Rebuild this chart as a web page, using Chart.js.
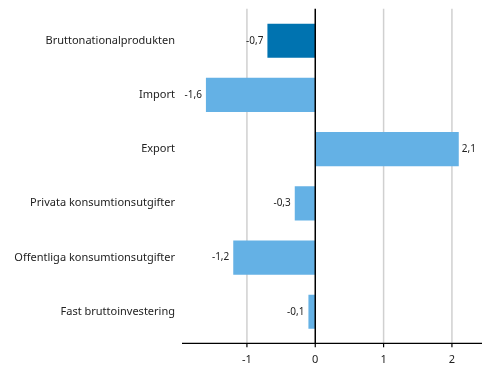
<!DOCTYPE html>
<html>
<head>
<meta charset="utf-8">
<script src="https://cdn.jsdelivr.net/npm/chart.js@4"></script>
<style>
  html, body { margin: 0; padding: 0; background: #fff; }
  #wrap { width: 491px; height: 378px; }
</style>
</head>
<body>
<div id="wrap"><canvas id="c" width="491" height="378"></canvas></div>
<script>
const categories = ["Bruttonationalprodukten", "Import", "Export", "Privata konsumtionsutgifter", "Offentliga konsumtionsutgifter", "Fast bruttoinvestering"];
const values = [-0.7, -1.6, 2.1, -0.3, -1.2, -0.1];
const valueLabels = ["-0,7", "-1,6", "2,1", "-0,3", "-1,2", "-0,1"];
const xTicks = [-1, 0, 1, 2];
const xTickLabels = ["-1", "0", "1", "2"];
const barColors = ["#0073b0", "#64b1e5", "#64b1e5", "#64b1e5", "#64b1e5", "#64b1e5"];

const FONT = "'Noto Sans', sans-serif";
const CAT_SIZE = 11;
const VAL_SIZE = 10;
const GRID_TOP = 8.7, AXIS_Y = 343.3;

const gridPlugin = {
  id: 'grid',
  beforeDatasetsDraw(chart) {
    const ctx = chart.ctx, xs = chart.scales.x;
    ctx.save();
    ctx.strokeStyle = '#d0d0d0';
    ctx.lineWidth = 1.5;
    xTicks.forEach(v => {
      if (v === 0) return;
      const px = xs.getPixelForValue(v);
      ctx.beginPath(); ctx.moveTo(px, GRID_TOP); ctx.lineTo(px, AXIS_Y); ctx.stroke();
    });
    ctx.restore();
  },
  afterDatasetsDraw(chart) {
    const ctx = chart.ctx, xs = chart.scales.x, a = chart.chartArea;
    ctx.save();
    ctx.strokeStyle = '#000';
    ctx.lineWidth = 1.5;
    const z = xs.getPixelForValue(0);
    ctx.beginPath(); ctx.moveTo(z, GRID_TOP); ctx.lineTo(z, AXIS_Y); ctx.stroke();
    ctx.lineWidth = 1.2;
    ctx.beginPath(); ctx.moveTo(a.left, AXIS_Y); ctx.lineTo(a.right, AXIS_Y); ctx.stroke();
    xTicks.forEach(v => {
      const px = xs.getPixelForValue(v);
      ctx.beginPath(); ctx.moveTo(px, AXIS_Y); ctx.lineTo(px, AXIS_Y + 4); ctx.stroke();
    });
    ctx.fillStyle = '#222';
    ctx.font = VAL_SIZE + "px " + FONT;
    ctx.textBaseline = 'middle';
    const meta = chart.getDatasetMeta(0);
    meta.data.forEach((el, i) => {
      const v = values[i];
      if (v < 0) { ctx.textAlign = 'right'; ctx.fillText(valueLabels[i], el.x - 4, el.y); }
      else { ctx.textAlign = 'left'; ctx.fillText(valueLabels[i], el.x + 3, el.y); }
    });
    ctx.restore();
  }
};

new Chart(document.getElementById('c'), {
  type: 'bar',
  data: {
    labels: categories,
    datasets: [{
      data: values,
      backgroundColor: barColors,
      borderWidth: 0,
      barPercentage: 0.63,
      categoryPercentage: 1.0
    }]
  },
  options: {
    indexAxis: 'y',
    responsive: false,
    animation: false,
    devicePixelRatio: 1,
    layout: { padding: { top: 12.85, right: 9, bottom: 0, left: 0 } },
    plugins: { legend: { display: false }, tooltip: { enabled: false } },
    scales: {
      x: {
        type: 'linear',
        min: -1.95,
        max: 2.44,
        grid: { display: false, drawTicks: false },
        border: { display: false },
        afterBuildTicks(scale) { scale.ticks = xTicks.map(v => ({ value: v })); },
        afterFit(scale) { scale.height = 378 - 338.9; },
        ticks: {
          autoSkip: false,
          maxRotation: 0,
          padding: 14,
          color: '#222',
          font: { family: FONT, size: VAL_SIZE + 1 },
          callback: (v) => { const i = xTicks.indexOf(v); return i >= 0 ? xTickLabels[i] : ''; }
        }
      },
      y: {
        grid: { display: false, drawTicks: false },
        border: { display: false },
        afterFit(scale) { scale.width = 182; },
        ticks: {
          padding: 7,
          color: '#222',
          font: { family: FONT, size: CAT_SIZE }
        }
      }
    }
  },
  plugins: [gridPlugin]
});
</script>
</body>
</html>
